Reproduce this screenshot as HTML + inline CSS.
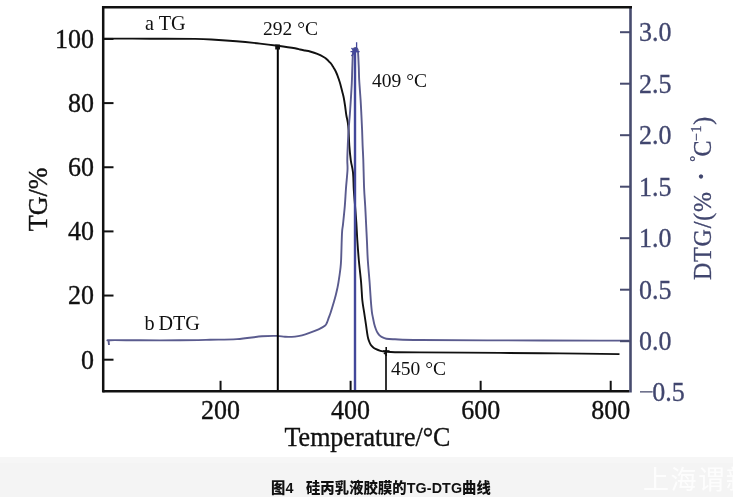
<!DOCTYPE html>
<html><head><meta charset="utf-8"><style>
html,body{margin:0;padding:0;background:#fff;}
svg{display:block;}
.tl{font-family:"Liberation Serif",serif;font-size:26px;fill:#111;stroke:#111;stroke-width:0.35px;}
.tr{font-family:"Liberation Serif",serif;font-size:26px;fill:#41466e;stroke:#41466e;stroke-width:0.3px;}
.an{font-family:"Liberation Serif",serif;font-size:20.2px;fill:#111;}
.an2{font-family:"Liberation Serif",serif;font-size:19.5px;fill:#111;}
.cap{font-family:"Liberation Sans","Noto Sans CJK SC",sans-serif;font-size:14.3px;letter-spacing:0.1px;font-weight:900;fill:#111;}
.wm{font-family:"Liberation Sans","Noto Sans CJK SC",sans-serif;font-size:26px;letter-spacing:1.6px;fill:#fff;opacity:0.85;}
</style></head><body>
<svg width="733" height="497" viewBox="0 0 733 497">
<rect x="0" y="0" width="733" height="497" fill="#fff"/>
<rect x="0" y="457" width="733" height="40" fill="#f4f4f4"/>
<rect x="0" y="457" width="733" height="6" fill="#f6f6f6"/>
<path d="M104.00,38.60 C111.67,38.62 134.83,38.65 150.00,38.70 C165.17,38.75 184.17,38.73 195.00,38.90 C205.83,39.07 208.10,39.32 215.00,39.70 C221.90,40.08 228.90,40.55 236.40,41.20 C243.90,41.85 253.12,42.83 260.00,43.60 C266.88,44.37 271.87,45.02 277.70,45.80 C283.53,46.58 291.28,47.68 295.00,48.30 C298.72,48.92 298.33,49.13 300.00,49.50 C301.67,49.87 303.33,50.17 305.00,50.50 C306.67,50.83 307.95,50.93 310.00,51.50 C312.05,52.07 314.88,52.90 317.30,53.90 C319.72,54.90 322.88,56.57 324.50,57.50 C326.12,58.43 326.20,58.78 327.00,59.50 C327.80,60.22 328.58,61.05 329.30,61.80 C330.02,62.55 330.68,63.20 331.30,64.00 C331.92,64.80 332.45,65.73 333.00,66.60 C333.55,67.47 334.10,68.30 334.60,69.20 C335.10,70.10 335.50,70.90 336.00,72.00 C336.50,73.10 337.10,74.48 337.60,75.80 C338.10,77.12 338.55,78.53 339.00,79.90 C339.45,81.27 339.90,82.60 340.30,84.00 C340.70,85.40 341.02,86.80 341.40,88.30 C341.78,89.80 342.20,91.38 342.60,93.00 C343.00,94.62 343.38,95.83 343.80,98.00 C344.22,100.17 344.68,103.17 345.10,106.00 C345.52,108.83 345.85,112.23 346.30,115.00 C346.75,117.77 347.42,120.07 347.80,122.60 C348.18,125.13 348.35,126.43 348.60,130.20 C348.85,133.97 348.93,140.18 349.30,145.20 C349.67,150.22 350.18,155.77 350.80,160.30 C351.42,164.83 352.50,167.45 353.00,172.40 C353.50,177.35 353.47,184.57 353.80,190.00 C354.13,195.43 354.58,199.67 355.00,205.00 C355.42,210.33 355.92,216.17 356.30,222.00 C356.68,227.83 356.87,233.50 357.30,240.00 C357.73,246.50 358.27,253.95 358.90,261.00 C359.53,268.05 360.53,275.80 361.10,282.30 C361.67,288.80 361.80,295.03 362.30,300.00 C362.80,304.97 363.50,308.07 364.10,312.10 C364.70,316.13 365.30,320.17 365.90,324.20 C366.50,328.23 367.18,333.50 367.70,336.30 C368.22,339.10 368.50,339.60 369.00,341.00 C369.50,342.40 370.03,343.67 370.70,344.70 C371.37,345.73 372.20,346.50 373.00,347.20 C373.80,347.90 374.27,348.30 375.50,348.90 C376.73,349.50 378.58,350.33 380.40,350.80 C382.22,351.27 383.97,351.47 386.40,351.70 C388.83,351.93 389.40,352.08 395.00,352.20 C400.60,352.32 402.50,352.28 420.00,352.40 C437.50,352.52 476.67,352.73 500.00,352.90 C523.33,353.07 540.08,353.20 560.00,353.40 C579.92,353.60 609.58,353.98 619.50,354.10" fill="none" stroke="#111" stroke-width="1.9" stroke-linejoin="round"/>
<path d="M109.00,345.00 C108.95,344.33 108.53,341.80 108.70,341.00 C108.87,340.20 104.78,340.32 110.00,340.20 C115.22,340.08 128.33,340.28 140.00,340.30 C151.67,340.32 168.33,340.38 180.00,340.30 C191.67,340.22 200.50,340.00 210.00,339.80 C219.50,339.60 228.33,339.68 237.00,339.10 C245.67,338.52 255.33,336.83 262.00,336.30 C268.67,335.77 273.17,335.82 277.00,335.90 C280.83,335.98 282.00,336.68 285.00,336.80 C288.00,336.92 292.17,336.85 295.00,336.60 C297.83,336.35 299.58,335.92 302.00,335.30 C304.42,334.68 306.73,333.90 309.50,332.90 C312.27,331.90 316.03,330.50 318.60,329.30 C321.17,328.10 323.50,326.83 324.90,325.70 C326.30,324.57 326.40,323.72 327.00,322.50 C327.60,321.28 327.92,319.98 328.50,318.40 C329.08,316.82 329.88,314.80 330.50,313.00 C331.12,311.20 331.62,309.52 332.20,307.60 C332.78,305.68 333.40,303.62 334.00,301.50 C334.60,299.38 335.25,297.07 335.80,294.90 C336.35,292.73 336.85,290.62 337.30,288.50 C337.75,286.38 338.00,285.37 338.50,282.20 C339.00,279.03 339.87,273.20 340.30,269.50 C340.73,265.80 340.82,266.03 341.10,260.00 C341.38,253.97 341.68,239.25 342.00,233.30 C342.32,227.35 342.53,228.82 343.00,224.30 C343.47,219.78 344.30,212.25 344.80,206.20 C345.30,200.15 345.55,194.03 346.00,188.00 C346.45,181.97 347.28,174.67 347.50,170.00 C347.72,165.33 347.25,164.17 347.30,160.00 C347.35,155.83 347.58,150.00 347.80,145.00 C348.02,140.00 348.27,135.00 348.60,130.00 C348.93,125.00 349.43,120.00 349.80,115.00 C350.17,110.00 350.47,105.33 350.80,100.00 C351.13,94.67 351.55,88.33 351.80,83.00 C352.05,77.67 352.10,73.17 352.30,68.00 C352.50,62.83 352.72,55.25 353.00,52.00 C353.28,48.75 353.33,49.08 354.00,48.50 C354.67,47.92 356.33,47.92 357.00,48.50 C357.67,49.08 357.70,48.75 358.00,52.00 C358.30,55.25 358.60,63.33 358.80,68.00 C359.00,72.67 358.90,74.67 359.20,80.00 C359.50,85.33 360.23,94.17 360.60,100.00 C360.97,105.83 361.15,110.00 361.40,115.00 C361.65,120.00 361.90,125.00 362.10,130.00 C362.30,135.00 362.40,140.00 362.60,145.00 C362.80,150.00 363.05,152.83 363.30,160.00 C363.55,167.17 363.78,180.33 364.10,188.00 C364.42,195.67 364.87,200.00 365.20,206.00 C365.53,212.00 365.80,217.93 366.10,224.00 C366.40,230.07 366.72,236.40 367.00,242.40 C367.28,248.40 367.37,253.35 367.80,260.00 C368.23,266.65 369.10,275.63 369.60,282.30 C370.10,288.97 370.42,295.03 370.80,300.00 C371.18,304.97 371.53,309.10 371.90,312.10 C372.27,315.10 372.60,315.98 373.00,318.00 C373.40,320.02 373.83,322.37 374.30,324.20 C374.77,326.03 375.28,327.60 375.80,329.00 C376.32,330.40 376.78,331.55 377.40,332.60 C378.02,333.65 378.80,334.58 379.50,335.30 C380.20,336.02 380.45,336.33 381.60,336.90 C382.75,337.47 384.17,338.30 386.40,338.70 C388.63,339.10 389.40,339.08 395.00,339.30 C400.60,339.52 402.50,339.82 420.00,340.00 C437.50,340.18 470.00,340.30 500.00,340.40 C530.00,340.50 578.50,340.57 600.00,340.60 C621.50,340.63 624.17,340.60 629.00,340.60" fill="none" stroke="#5a5b8e" stroke-width="1.9" stroke-linejoin="round"/>
<line x1="277.8" y1="46.5" x2="277.8" y2="391.2" stroke="#000" stroke-width="2"/>
<line x1="355.0" y1="48" x2="355.0" y2="391.2" stroke="#42479a" stroke-width="2.4"/>
<line x1="386" y1="350" x2="386" y2="391.2" stroke="#000" stroke-width="1.6"/>
<path d="M350.5,51.6 L359.6,51.6 M356.6,42.3 L356.6,52 M351.5,48 L356,53 M351.5,56 L355.5,51" stroke="#42479a" stroke-width="1.3"/>
<path d="M275.2,44.5 L280,44.5 L280,49.5 L275.2,49.5 Z" fill="#111"/>
<path d="M386.2,347 L386.2,356 M383,351 L389.5,351 M384,354 L386,352" stroke="#111" stroke-width="1.6"/>
<line x1="630.5" y1="7.3" x2="630.5" y2="392.5" stroke="#474b6e" stroke-width="2.6"/>
<line x1="102.0" y1="7.3" x2="632.0" y2="7.3" stroke="#111" stroke-width="2.6"/>
<line x1="103.2" y1="6.0" x2="103.2" y2="392.5" stroke="#111" stroke-width="2.5"/>
<line x1="103.3" y1="391.2" x2="629.2" y2="391.2" stroke="#111" stroke-width="2.6"/>
<line x1="103.3" y1="359.70" x2="113.5" y2="359.70" stroke="#111" stroke-width="2"/>
<text transform="translate(94,368.50) scale(1,1.06)" class="tl" text-anchor="end">0</text>
<line x1="103.3" y1="295.55" x2="113.5" y2="295.55" stroke="#111" stroke-width="2"/>
<text transform="translate(94,304.35) scale(1,1.06)" class="tl" text-anchor="end">20</text>
<line x1="103.3" y1="231.40" x2="113.5" y2="231.40" stroke="#111" stroke-width="2"/>
<text transform="translate(94,240.20) scale(1,1.06)" class="tl" text-anchor="end">40</text>
<line x1="103.3" y1="167.25" x2="113.5" y2="167.25" stroke="#111" stroke-width="2"/>
<text transform="translate(94,176.05) scale(1,1.06)" class="tl" text-anchor="end">60</text>
<line x1="103.3" y1="103.10" x2="113.5" y2="103.10" stroke="#111" stroke-width="2"/>
<text transform="translate(94,111.90) scale(1,1.06)" class="tl" text-anchor="end">80</text>
<line x1="103.3" y1="38.95" x2="113.5" y2="38.95" stroke="#111" stroke-width="2"/>
<text transform="translate(94,47.75) scale(1,1.06)" class="tl" text-anchor="end">100</text>
<line x1="220.55" y1="380.8" x2="220.55" y2="391.2" stroke="#111" stroke-width="2"/>
<text transform="translate(220.55,419.1) scale(1,1.06)" class="tl" text-anchor="middle">200</text>
<line x1="350.60" y1="380.8" x2="350.60" y2="391.2" stroke="#111" stroke-width="2"/>
<text transform="translate(350.60,419.1) scale(1,1.06)" class="tl" text-anchor="middle">400</text>
<line x1="480.65" y1="380.8" x2="480.65" y2="391.2" stroke="#111" stroke-width="2"/>
<text transform="translate(480.65,419.1) scale(1,1.06)" class="tl" text-anchor="middle">600</text>
<line x1="610.70" y1="380.8" x2="610.70" y2="391.2" stroke="#111" stroke-width="2"/>
<text transform="translate(610.70,419.1) scale(1,1.06)" class="tl" text-anchor="middle">800</text>
<line x1="620" y1="32.20" x2="630.5" y2="32.20" stroke="#474b6e" stroke-width="2"/>
<text transform="translate(639,41.40) scale(1,1.06)" class="tr">3.0</text>
<line x1="620" y1="83.70" x2="630.5" y2="83.70" stroke="#474b6e" stroke-width="2"/>
<text transform="translate(639,92.90) scale(1,1.06)" class="tr">2.5</text>
<line x1="620" y1="135.20" x2="630.5" y2="135.20" stroke="#474b6e" stroke-width="2"/>
<text transform="translate(639,144.40) scale(1,1.06)" class="tr">2.0</text>
<line x1="620" y1="186.70" x2="630.5" y2="186.70" stroke="#474b6e" stroke-width="2"/>
<text transform="translate(639,195.90) scale(1,1.06)" class="tr">1.5</text>
<line x1="620" y1="238.20" x2="630.5" y2="238.20" stroke="#474b6e" stroke-width="2"/>
<text transform="translate(639,247.40) scale(1,1.06)" class="tr">1.0</text>
<line x1="620" y1="289.70" x2="630.5" y2="289.70" stroke="#474b6e" stroke-width="2"/>
<text transform="translate(639,298.90) scale(1,1.06)" class="tr">0.5</text>
<line x1="620" y1="341.20" x2="630.5" y2="341.20" stroke="#474b6e" stroke-width="2"/>
<text transform="translate(639,350.40) scale(1,1.06)" class="tr">0.0</text>
<text transform="translate(639,401.20) scale(1,1.06)" class="tr"><tspan fill="#7c7f94">−</tspan><tspan dx="-1.4">0.5</tspan></text>
<text transform="translate(367.5,446.3) scale(1,1.06)" class="tl" text-anchor="middle">Temperature/°C</text>
<text transform="translate(47.1,199.4) rotate(-90) scale(1,1.06)" class="tl" text-anchor="middle">TG/%</text>
<text transform="translate(710.5,280) rotate(-90) scale(1,1.04)" class="tr" style="font-size:24px;letter-spacing:0.8px">DTG/(%<tspan dx="9.5" dy="1.3" style="font-size:32px">·</tspan><tspan dx="8.5" dy="-11.3" style="font-size:15px">°</tspan><tspan dx="-1.5" dy="10.0">C</tspan><tspan dx="-1.5" dy="-9" style="font-size:14px">−1</tspan><tspan dy="9">)</tspan></text>
<text x="145" y="30.2" class="an">a TG</text>
<text x="144.5" y="329.6" class="an" word-spacing="-1.2">b DTG</text>
<text x="263" y="35.1" class="an2">292 °C</text>
<text x="372" y="87.2" class="an2">409 °C</text>
<text x="391" y="375.4" class="an2">450 °C</text>
<text x="271" y="492.7" class="cap">图4<tspan dx="12.5">硅丙乳液胶膜的TG-DTG曲线</tspan></text>
<text x="643" y="488.5" class="wm">上海谓新</text>
</svg>
</body></html>
